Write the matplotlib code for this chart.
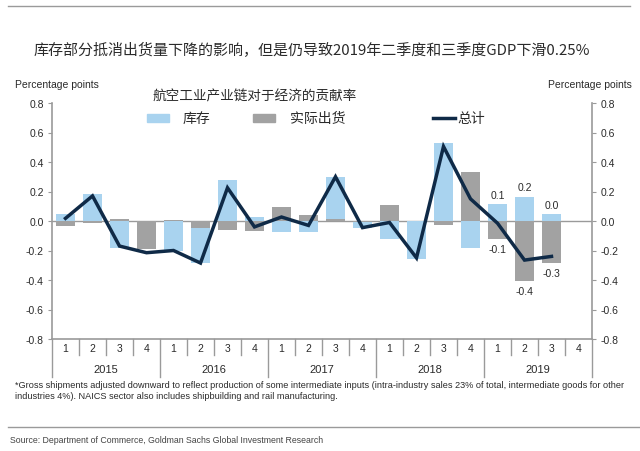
import matplotlib
matplotlib.use("Agg")
import matplotlib.pyplot as plt
from matplotlib.patches import Rectangle
from matplotlib.lines import Line2D

plt.rcParams['font.family'] = ['Liberation Sans', 'Noto Sans CJK SC', 'DejaVu Sans']

quarters = ['1', '2', '3', '4'] * 5
years = ['2015', '2016', '2017', '2018', '2019']
inventory = [0.05, 0.185, -0.185, 0.0, -0.2, -0.285, 0.28, 0.027, -0.072, -0.075,
             0.30, -0.047, -0.12, -0.26, 0.53, -0.18, 0.115, 0.165, 0.045]
shipments = [-0.035, -0.015, 0.013, -0.19, 0.01, -0.05, -0.06, -0.07, 0.097, 0.043,
             0.015, -0.005, 0.106, 0.0, -0.025, 0.33, -0.125, -0.41, -0.287]
total = [0.018, 0.17, -0.17, -0.215, -0.2, -0.285, 0.225, -0.04, 0.027, -0.03,
         0.30, -0.045, -0.01, -0.25, 0.505, 0.15, -0.015, -0.265, -0.24]
inv_labels = {16: '0.1', 17: '0.2', 18: '0.0'}
ship_labels = {16: '-0.1', 17: '-0.4', 18: '-0.3'}

title = '库存部分抵消出货量下降的影响，但是仍导致2019年二季度和三季度GDP下滑0.25%'
subtitle = '航空工业产业链对于经济的贡献率'
legend_names = ['库存', '实际出货', '总计']
ylabel = 'Percentage points'
footnote = ('*Gross shipments adjusted downward to reflect production of some intermediate inputs '
            '(intra-industry sales 23% of total, intermediate goods for other\n'
            'industries 4%). NAICS sector also includes shipbuilding and rail manufacturing.')
source = 'Source: Department of Commerce, Goldman Sachs Global Investment Research'

blue = '#a9d3ef'
grey = '#a2a2a2'
navy = '#0f2a47'
axcol = '#9a9a9a'
txt = '#2a2a2a'

W, H = 640, 452
fig = plt.figure(figsize=(6.4, 4.52), dpi=100)
L, R, T, B = 52, 592, 104, 340
ax = fig.add_axes([L / W, 1 - B / H, (R - L) / W, (B - T) / H])

n = len(quarters)
x = list(range(len(inventory)))
ax.bar(x, inventory, width=0.68, color=blue, zorder=2)
ax.bar(x, shipments, width=0.68, color=grey, zorder=3)
ax.plot(x, total, color=navy, lw=2.5, zorder=4, solid_joinstyle='miter')

for i, s in inv_labels.items():
    ax.text(i, inventory[i] + 0.03, s, ha='center', va='bottom', fontsize=7.5, color=txt)
for i, s in ship_labels.items():
    ax.text(i, shipments[i] - 0.03, s, ha='center', va='top', fontsize=7.5, color=txt)

ax.set_xlim(-0.5, n - 0.5)
ax.set_ylim(-0.8, 0.8)
ax.axhline(0, color=axcol, lw=1, zorder=1)
ax.axhline(-0.8, color=axcol, lw=1.2, zorder=1, clip_on=False)
ticks = [-0.8, -0.6, -0.4, -0.2, 0.0, 0.2, 0.4, 0.6, 0.8]
ax.set_yticks(ticks)
ax.set_yticklabels([f'{t:.1f}' for t in ticks])
ax.tick_params(axis='y', which='both', left=True, right=True, labelleft=True, labelright=True,
               direction='out', length=3, color=axcol, labelsize=7.5, labelcolor=txt, pad=3)
ax.set_xticks([])
for sp in ['top', 'bottom']:
    ax.spines[sp].set_visible(False)
for sp in ['left', 'right']:
    ax.spines[sp].set_color(axcol)
    ax.spines[sp].set_linewidth(1.2)

# category axis drawn below
qpx = (R - L) / n
for k in range(n + 1):
    xp = L + k * qpx
    bottom = 378 if k % 4 == 0 else 356
    fig.add_artist(Line2D([xp / W, xp / W], [1 - B / H, 1 - bottom / H], color=axcol, lw=1))
for k, q in enumerate(quarters):
    xp = L + (k + 0.5) * qpx
    fig.text(xp / W, 1 - 349 / H, q, ha='center', va='center', fontsize=7.5, color=txt)
for k, yname in enumerate(years):
    xp = L + (4 * k + 2) * qpx
    fig.text(xp / W, 1 - 370 / H, yname, ha='center', va='center', fontsize=8, color=txt)

# texts
fig.add_artist(Line2D([8 / W, 630 / W], [1 - 7 / H, 1 - 7 / H], color='#9a9a9a', lw=1))
fig.text(312 / W, 1 - 50 / H, title, ha='center', va='center', fontsize=10.8, color=txt,
         family=['Noto Sans CJK SC', 'DejaVu Sans'])
fig.text(255 / W, 1 - 96 / H, subtitle, ha='center', va='center', fontsize=9.8, color=txt,
         family=['Noto Sans CJK SC', 'DejaVu Sans'])
fig.text(15 / W, 1 - 85 / H, ylabel, ha='left', va='center', fontsize=7.5, color=txt)
fig.text(632 / W, 1 - 85 / H, ylabel, ha='right', va='center', fontsize=7.5, color=txt)

# legend
ly = 119
fig.add_artist(Rectangle((147 / W, 1 - (ly + 4) / H), 22 / W, 8 / H, color=blue))
fig.text(183 / W, 1 - ly / H, legend_names[0], ha='left', va='center', fontsize=10, color=txt,
         family=['Noto Sans CJK SC', 'DejaVu Sans'])
fig.add_artist(Rectangle((253 / W, 1 - (ly + 4) / H), 22 / W, 8 / H, color=grey))
fig.text(290 / W, 1 - ly / H, legend_names[1], ha='left', va='center', fontsize=10, color=txt,
         family=['Noto Sans CJK SC', 'DejaVu Sans'])
fig.add_artist(Line2D([433 / W, 455 / W], [1 - ly / H, 1 - ly / H], color=navy, lw=2.5))
fig.text(457 / W, 1 - ly / H, legend_names[2], ha='left', va='center', fontsize=10, color=txt,
         family=['Noto Sans CJK SC', 'DejaVu Sans'])

fig.text(15 / W, 1 - 391 / H, footnote, ha='left', va='center', fontsize=6.6, color=txt,
         linespacing=1.2)
fig.add_artist(Line2D([8 / W, 640 / W], [1 - 428 / H, 1 - 428 / H], color='#9a9a9a', lw=1))
fig.text(10 / W, 1 - 441 / H, source, ha='left', va='center', fontsize=6.3, color='#444444',
         family=['Liberation Sans Narrow', 'Liberation Sans', 'DejaVu Sans'])

fig.savefig('out.png', dpi=100, facecolor='white')
